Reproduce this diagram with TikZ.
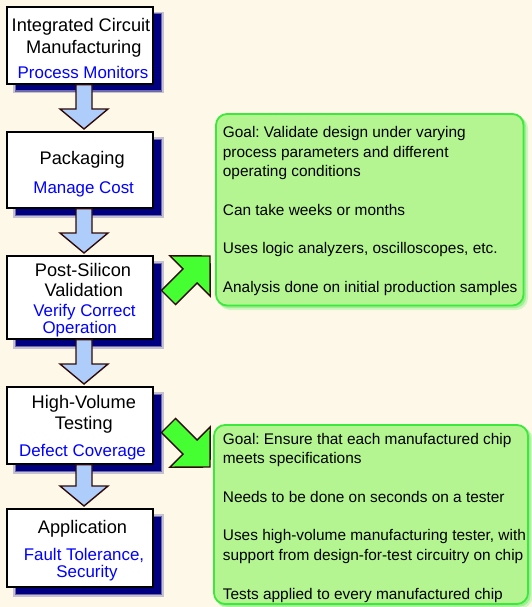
\documentclass[tikz,border=0pt]{standalone}
\usepackage{fontspec}
\setmainfont{Liberation Sans}
\usetikzlibrary{calc}
\frenchspacing
\definecolor{paper}{RGB}{253,248,231}
\definecolor{navyshade}{RGB}{0,0,128}
\definecolor{flowblue}{RGB}{174,205,250}
\definecolor{arrowedge}{RGB}{48,10,10}
\definecolor{notefill}{RGB}{180,245,145}
\definecolor{noteedge}{RGB}{60,232,60}
\definecolor{arrowgreen}{RGB}{70,255,50}
\definecolor{labelblue}{RGB}{0,0,255}
\pgfdeclarelayer{back}
\pgfsetlayers{back,main}

\begin{document}
\begin{tikzpicture}[x=1pt,y=-1pt,
  stage/.style={draw=black, line width=1.2pt, fill=white, minimum width=146pt,
    inner sep=0pt, outer sep=0pt},
  stagetitle/.style={anchor=base, inner sep=0pt, font=\fontsize{18.2}{21}\selectfont},
  stagesub/.style={anchor=base, inner sep=0pt, text=labelblue, font=\fontsize{16.9}{20}\selectfont},
  flow/.style={fill=flowblue, draw=arrowedge, line width=1.4pt, line join=miter},
  pointer/.style={fill=arrowgreen, draw=arrowedge, line width=1.4pt, line join=miter},
  note/.style={draw=noteedge, line width=1.8pt, fill=notefill, rounded corners=11pt,
    inner sep=0pt, outer sep=0pt},
  notetext/.style={anchor=base west, inner sep=0pt, font=\fontsize{15.4}{19.5}\selectfont},
]
\useasboundingbox (0,0) rectangle (532,607);

% flow stages
\node[stage, minimum height=77pt] (b1) at (80,45.5) {};
\node[stage, minimum height=76pt] (b2) at (80,170) {};
\node[stage, minimum height=83pt] (b3) at (80,297.5) {};
\node[stage, minimum height=77pt] (b4) at (80,425.5) {};
\node[stage, minimum height=78pt] (b5) at (80,548) {};

% note panels
\node[note, minimum width=307.5pt, minimum height=191.5pt] (gA) at (369.75,209.75) {};
\node[note, minimum width=314pt, minimum height=179pt] (gB) at (371,514.5) {};

% paper, shadows and glows
\begin{pgfonlayer}{back}
  \fill[paper] (0,0) rectangle (532,607);
  \foreach \b in {b1,b2,b3,b4,b5}{
    \fill[navyshade, opacity=.22] ($(\b.north west)+(6,5)$) rectangle ($(\b.south east)+(10.5,9.5)$);
    \fill[navyshade, opacity=.45] ($(\b.north west)+(7.5,6.5)$) rectangle ($(\b.south east)+(9,8)$);
    \fill[navyshade] ($(\b.north west)+(8.5,7.5)$) rectangle ($(\b.south east)+(7.5,6.5)$);
  }
  \foreach \g in {gA,gB}{
    \fill[noteedge, opacity=.22, rounded corners=12pt] ($(\g.north west)+(2,2)$) rectangle ($(\g.south east)+(4.5,4.5)$);
    \fill[noteedge, opacity=.35, rounded corners=11pt] ($(\g.north west)+(1.5,1.5)$) rectangle ($(\g.south east)+(2.5,2.5)$);
  }
\end{pgfonlayer}

% downward flow arrows
\foreach \a/\b in {b1/b2,b2/b3,b3/b4,b4/b5}
  \draw[flow] ($(\a.south)+(-4,0.6)$) -- ($(\b.north)+(-4,-23)$) -- ($(\b.north)+(-20,-23)$)
    -- ($(\b.north)+(4,-3)$) -- ($(\b.north)+(28,-23)$) -- ($(\b.north)+(12,-23)$)
    -- ($(\a.south)+(12,0.6)$) -- cycle;

% pointers to the note panels
\coordinate (p1) at ($(b3.east)+(15.5,0)$);
\coordinate (p2) at ($(b4.east)+(15.5,0)$);
\begin{scope}[shift={(p1)}, rotate=45]
  \draw[pointer] (0,-10) -- (30.5,-10) -- (30.5,-28.5) -- (58.7,0) -- (30.5,28.5) -- (30.5,10) -- (0,10) -- cycle;
\end{scope}
\begin{scope}[shift={(p2)}, rotate=-45]
  \draw[pointer] (0,-10) -- (30.5,-10) -- (30.5,-28.5) -- (58.7,0) -- (30.5,28.5) -- (30.5,10) -- (0,10) -- cycle;
\end{scope}

% stage labels
\node[stagetitle] (t1a) at (81,31.7) {Integrated Circuit};
\node[stagetitle] (t1b) at (83.8,53.3) {Manufacturing};
\node[stagesub]   (s1a) at (83,79) {Process Monitors};

\node[stagetitle] (t2a) at (82.2,164.3) {Packaging};
\node[stagesub]   (s2a) at (83.7,193.3) {Manage Cost};

\node[stagetitle] (t3a) at (83,276) {Post-Silicon};
\node[stagetitle] (t3b) at (83.8,296.7) {Validation};
\node[stagesub]   (s3a) at (84.5,316.7) {Verify Correct};
\node[stagesub]   (s3b) at (79.7,333.3) {Operation};

\node[stagetitle] (t4a) at (83.8,408.3) {High-Volume};
\node[stagetitle] (t4b) at (83.8,429) {Testing};
\node[stagesub]   (s4a) at (82.5,456) {Defect Coverage};

\node[stagetitle] (t5a) at (82.5,533.3) {Application};
\node[stagesub]   (s5a) at (84,560.7) {Fault Tolerance,};
\node[stagesub]   (s5b) at (87,577.3) {Security};

% note texts
\node[notetext] (tA) at (222.7,137.5) {\begin{tabular}[t]{@{}l@{}}Goal: Validate design under varying\\
process parameters and different\\
operating conditions\\[19.2pt]
Can take weeks or months\\[19.2pt]
Uses logic analyzers, oscilloscopes, etc.\\[19.2pt]
Analysis done on initial production samples\end{tabular}};

\node[notetext] (tB) at (222.7,444) {\begin{tabular}[t]{@{}l@{}}Goal: Ensure that each manufactured chip\\
meets specifications\\[19.2pt]
Needs to be done on seconds on a tester\\[19.2pt]
Uses high-volume manufacturing tester, with\\
support from design-for-test circuitry on chip\\[19.2pt]
Tests applied to every manufactured chip\end{tabular}};
\end{tikzpicture}
\end{document}
